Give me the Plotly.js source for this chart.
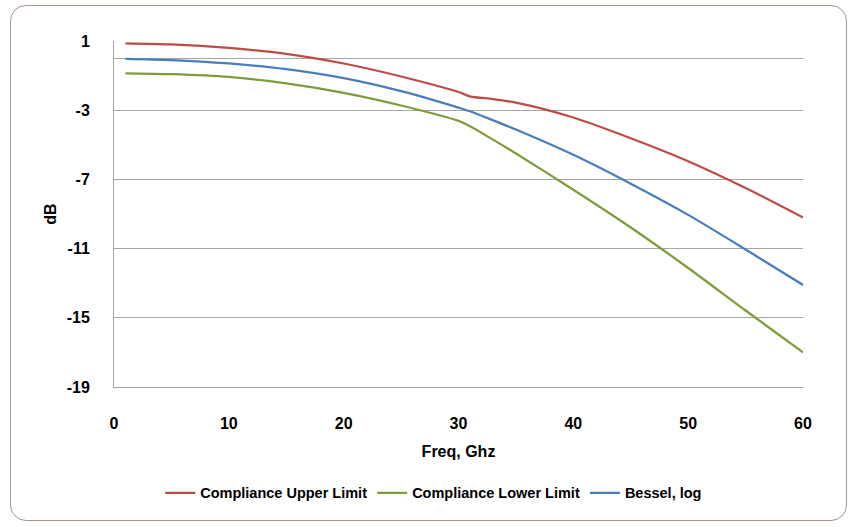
<!DOCTYPE html>
<html>
<head>
<meta charset="utf-8">
<script src="https://cdn.plot.ly/plotly-3.0.1.min.js"></script>
<style>
  html, body { margin: 0; padding: 0; background: #ffffff; }
  #wrap { position: relative; width: 852px; height: 527px; }
  #chart { position: absolute; left: 0; top: 0; width: 852px; height: 527px; }
  #frame { position: absolute; left: 10px; top: 5px; width: 837px; height: 516px;
           border: 1.5px solid #a89488; border-radius: 16px; pointer-events: none; box-sizing: border-box; }
</style>
</head>
<body>
<div id="wrap">
  <div id="chart"></div>
  <div id="frame"></div>
</div>
<script>
// Frequency (GHz)
const freq = [1, 5, 10, 15, 20, 25, 30, 31, 33, 35, 40, 45, 50, 55, 60];
// Compliance Upper Limit (dB)
const upperLimit = [0.86, 0.80, 0.60, 0.26, -0.30, -1.05, -1.95, -2.20, -2.36, -2.56, -3.42, -4.62, -5.95, -7.50, -9.20];
// Compliance Lower Limit (dB)
const lowerLimit = [-0.87, -0.92, -1.08, -1.45, -2.00, -2.73, -3.62, -3.93, -4.70, -5.50, -7.60, -9.78, -12.12, -14.58, -17.00];
// Bessel, log (dB)
const besselLog = [-0.03, -0.10, -0.30, -0.63, -1.15, -1.90, -2.85, -3.06, -3.58, -4.12, -5.58, -7.25, -9.05, -11.05, -13.10];

const seriesNames = ['Compliance Upper Limit', 'Compliance Lower Limit', 'Bessel, log'];
const seriesColors = ['#be4b48', '#7e9c3b', '#4a7ebb'];
const seriesData = [upperLimit, lowerLimit, besselLog];

const yTickVals = [1, -3, -7, -11, -15, -19];
const xTickVals = [0, 10, 20, 30, 40, 50, 60];

const traces = seriesData.map((ys, i) => ({
  x: freq,
  y: ys,
  type: 'scatter',
  mode: 'lines',
  name: seriesNames[i],
  line: { color: seriesColors[i], width: 2.25, shape: 'spline', smoothing: 0.8 }
}));

const font = 'Liberation Sans, Arial, sans-serif';
const gridColor = '#a6a6a6';

const layout = {
  width: 852,
  height: 527,
  margin: { l: 114, r: 49, t: 41, b: 140 },
  paper_bgcolor: '#ffffff',
  plot_bgcolor: '#ffffff',
  showlegend: true,
  font: { family: font, color: '#000000' },
  xaxis: {
    range: [0, 60],
    tickvals: xTickVals,
    ticktext: xTickVals.map(String),
    showgrid: false,
    zeroline: false,
    showline: true,
    linecolor: gridColor,
    linewidth: 1,
    ticks: '',
    ticklabelstandoff: 22,
    tickfont: { family: font, size: 16, color: '#000000', weight: 'bold' },
    title: { text: 'Freq, Ghz', font: { family: font, size: 16, color: '#000000', weight: 'bold' }, standoff: 14 },
    fixedrange: true
  },
  yaxis: {
    range: [-19, 1],
    tickvals: yTickVals,
    ticktext: yTickVals.map(String),
    showgrid: true,
    gridcolor: gridColor,
    gridwidth: 1,
    zeroline: true,
    zerolinecolor: gridColor,
    zerolinewidth: 1,
    showline: true,
    linecolor: gridColor,
    linewidth: 1,
    ticks: '',
    ticklabelstandoff: 20,
    tickfont: { family: font, size: 16, color: '#000000', weight: 'bold' },
    title: { text: 'dB', font: { family: font, size: 16, color: '#000000', weight: 'bold' }, standoff: 6 },
    fixedrange: true
  },
  legend: {
    orientation: 'h',
    x: 0.464,
    xanchor: 'center',
    y: -0.306,
    yanchor: 'middle',
    font: { family: font, size: 14.5, color: '#000000', weight: 'bold' },
    itemwidth: 30,
    tracegroupgap: 0
  }
};

Plotly.newPlot('chart', traces, layout, { displayModeBar: false, staticPlot: true });
</script>
</body>
</html>
